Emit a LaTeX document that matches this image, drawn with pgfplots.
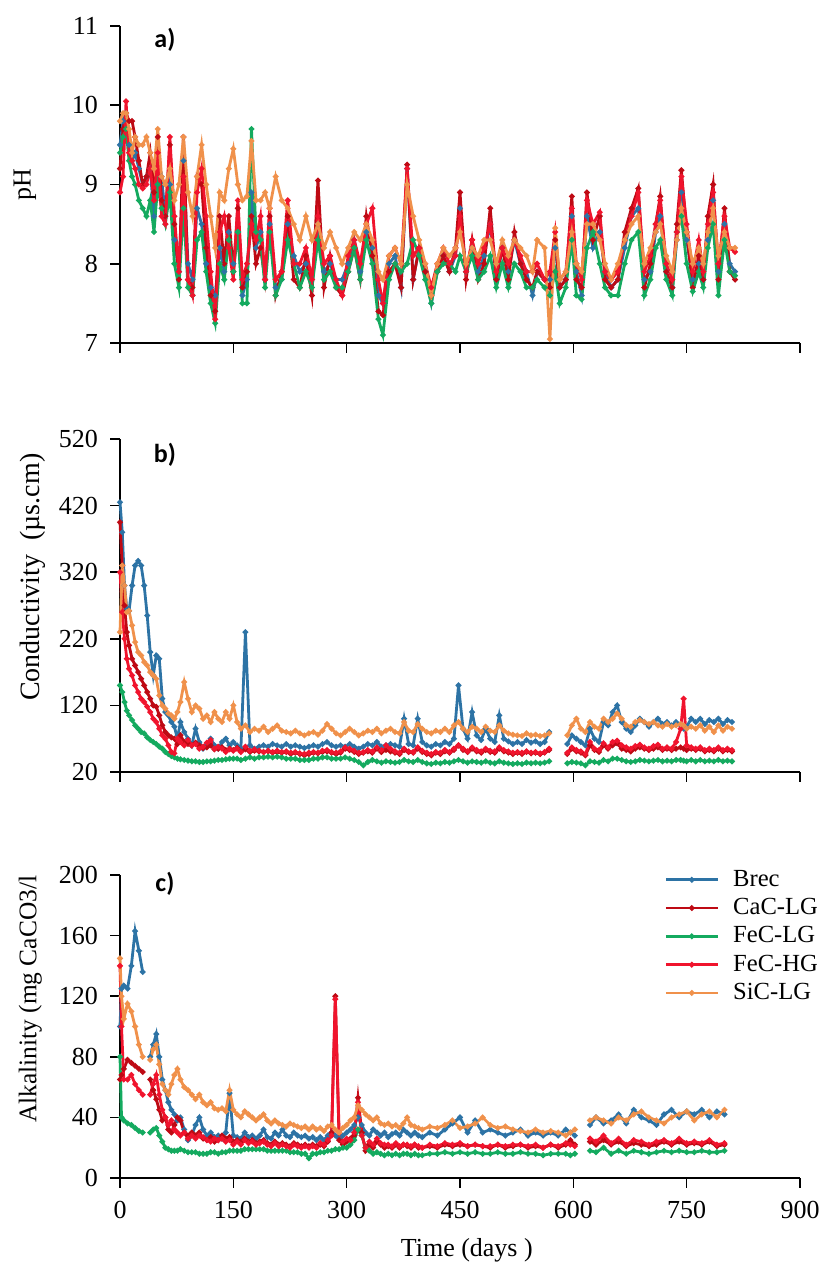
\documentclass[border=0pt]{standalone}
\usepackage{fontspec}
\setmainfont{Liberation Serif}
\newfontfamily\calib{Carlito}
\usepackage{pgfplots}
\usepackage{pgfplotstable}
\pgfplotsset{compat=1.18}
\definecolor{cB}{RGB}{45,115,165}
\definecolor{cC}{RGB}{190,10,20}
\definecolor{cG}{RGB}{20,170,95}
\definecolor{cR}{RGB}{240,20,45}
\definecolor{cO}{RGB}{240,145,75}

\pgfplotstableread{
x B C G R O
0 9.5 9.2 9.4 8.9 9.8
4 9.8 9.7 9.6 9.1 9.9
8 9.9 9.9 9.7 10.05 9.9
12 9.5 9.8 9.3 9.4 9.7
16 9.3 9.8 9.1 9.3 9.4
20 9.4 9.6 9.0 9.2 9.6
25 9.2 9.3 8.8 9.0 9.5
30 9.0 9.0 8.7 8.95 9.5
35 9.1 9.1 8.6 9.0 9.6
40 9.2 9.4 8.8 9.2 9.4
45 8.6 8.9 8.4 8.8 9.2
50 9.0 9.6 9.0 9.4 9.7
55 9.1 8.8 8.7 8.6 9.1
60 8.6 8.6 8.5 8.5 9.0
66 9.0 9.5 8.9 9.6 9.2
72 8.3 8.5 8.0 8.6 8.8
78 7.9 7.8 7.7 7.9 9.0
84 9.3 9.6 8.7 9.1 9.6
90 8.0 7.8 7.7 7.8 8.9
96 7.8 7.7 7.6 7.6 8.6
102 8.7 9.1 8.3 8.9 9.1
108 8.5 9.0 8.4 9.2 9.5
114 8.0 8.2 7.9 8.6 9.0
120 7.7 7.6 7.5 7.9 8.6
126 7.6 7.4 7.25 7.3 8.2
132 8.2 8.6 8.0 8.4 8.9
138 7.9 8.0 7.8 8.6 8.8
144 8.4 8.6 8.3 8.2 9.2
150 8.0 7.9 7.9 7.8 9.45
156 8.4 8.7 8.4 8.8 9.0
162 7.6 7.7 7.5 7.8 8.8
168 7.8 7.9 7.5 8.0 8.85
174 8.9 8.6 9.7 8.5 9.55
180 8.2 8.0 8.4 8.3 8.8
186 8.4 8.2 8.3 8.6 8.8
192 7.8 7.8 7.7 7.8 8.9
198 8.5 8.6 8.4 8.7 8.7
206 7.7 7.6 7.6 7.8 9.1
214 7.8 7.9 7.8 7.9 8.8
222 8.5 8.6 8.3 8.8 8.7
230 8.1 7.8 8.0 8.0 8.5
238 7.9 7.7 7.7 8.0 8.3
246 8.0 8.1 7.9 8.2 8.6
254 7.8 7.6 7.7 7.8 8.3
262 8.5 9.05 8.3 8.6 8.5
270 7.9 7.7 7.8 8.0 8.2
278 8.0 8.1 7.9 8.1 8.4
286 7.8 7.7 7.7 7.8 8.2
294 7.8 7.6 7.7 7.6 8.0
302 8.0 7.9 7.9 8.1 8.2
310 8.3 8.2 8.2 8.3 8.4
318 7.9 7.8 7.8 8.0 8.3
326 8.4 8.6 8.3 8.5 8.5
334 8.2 8.1 8.0 8.7 8.3
342 7.6 7.4 7.3 7.8 7.9
348 7.5 7.35 7.1 7.5 7.8
356 8.0 7.9 7.8 8.1 8.1
364 8.1 8.0 8.0 8.2 8.2
372 7.7 7.7 7.9 8.0 8.0
380 9.2 9.25 8.0 9.2 9.0
388 7.8 7.8 8.3 8.1 8.6
396 8.2 8.2 8.1 8.2 8.3
404 7.9 7.9 7.8 8.0 8.0
412 7.5 7.6 7.5 7.7 7.6
420 7.9 7.9 7.9 8.0 8.0
428 8.1 8.1 8.0 8.2 8.2
436 7.9 7.9 8.0 8.0 8.1
444 8.1 8.2 7.9 8.1 8.2
450 8.7 8.9 8.1 8.6 8.4
458 7.9 7.8 7.9 7.9 8.0
466 8.2 8.3 8.1 8.3 8.2
474 7.9 7.8 7.8 8.0 8.1
482 8.1 8.0 7.9 8.2 8.3
490 8.5 8.7 8.1 8.5 8.3
498 7.8 7.8 7.7 7.9 8.0
506 8.2 8.2 8.0 8.2 8.3
514 7.9 7.8 7.7 8.0 8.1
522 8.3 8.4 8.0 8.3 8.3
530 8.0 8.0 7.9 8.1 8.2
538 7.9 7.8 7.7 7.9 8.1
546 7.6 7.7 7.7 7.9 7.9
552 7.9 7.9 7.8 8.0 8.3
562 7.8 7.8 7.7 7.8 8.2
569 7.8 7.7 7.6 7.9 7.05
576 8.2 8.3 7.9 8.4 8.45
582 7.7 7.7 7.5 7.8 7.8
590 7.8 7.8 7.7 7.9 7.9
598 8.6 8.85 8.3 8.7 8.4
604 7.9 7.8 7.6 8.0 8.0
611 7.6 7.7 7.55 7.8 7.9
618 8.6 8.9 8.2 8.8 8.5
626 8.2 8.3 8.4 8.5 8.5
635 8.4 8.6 8.0 8.65 8.3
642 7.9 7.8 7.7 7.9 8.0
650 7.7 7.7 7.6 7.8 7.8
659 7.8 7.8 7.6 7.9 8.0
668 8.2 8.4 8.0 8.3 8.3
677 8.6 8.7 8.3 8.6 8.5
686 8.7 8.95 8.4 8.9 8.6
694 7.8 7.7 7.6 7.9 8.0
702 7.9 8.0 7.8 8.1 8.2
709 8.4 8.5 8.2 8.5 8.4
715 8.6 8.85 8.3 8.8 8.5
723 7.9 7.9 7.8 8.0 8.1
731 7.7 7.7 7.6 7.8 7.9
737 8.3 8.5 8.4 8.4 8.3
743 8.9 9.18 8.6 9.1 8.7
750 8.3 8.4 8.0 8.5 8.4
758 7.8 7.7 7.65 7.9 8.0
766 8.0 8.1 7.9 8.3 8.2
772 7.8 7.8 7.7 7.9 8.0
778 8.3 8.6 8.2 8.5 8.4
785 8.8 9.0 8.5 8.9 8.7
792 7.9 7.8 7.6 8.0 8.1
800 8.5 8.7 8.3 8.6 8.4
807 8.0 7.9 7.9 8.2 8.2
814 7.9 7.8 7.85 8.15 8.2
}\tabA

\pgfplotstableread{
x B C G R O
0 425 395 150 320 230
3 380 330 140 260 330
6 300 270 125 220 300
9 265 230 112 190 260
12 262 210 105 175 262
16 300 190 98 165 240
20 330 180 90 150 215
24 337 170 85 140 200
28 330 160 80 130 195
32 300 150 78 125 185
36 255 140 72 118 180
40 200 130 68 110 170
44 165 120 65 100 165
48 195 118 62 95 160
52 190 105 58 85 135
56 130 90 55 75 120
60 110 80 50 70 115
64 105 75 47 60 108
68 95 72 44 50 105
72 88 70 42 48 100
76 70 62 40 70 110
80 95 75 39 65 125
85 80 65 38 60 155
90 70 62 37 68 130
95 60 60 36 60 110
100 85 64 36 62 120
105 65 60 35 55 115
110 55 56 35 58 100
115 60 57 36 64 105
120 70 60 36 68 95
125 60 54 37 55 110
130 55 55 38 58 100
135 65 57 38 55 95
140 70 53 39 50 110
145 60 55 40 54 100
150 65 53 40 52 120
155 60 56 40 55 95
160 55 51 38 50 85
166 230 54 40 58 90
172 60 50 42 52 80
178 55 52 40 54 85
184 58 51 42 52 82
190 60 50 42 50 88
196 58 51 43 52 80
202 62 49 42 50 85
208 60 50 43 52 90
214 58 49 42 50 82
220 62 50 40 51 80
226 58 47 40 49 78
232 60 49 40 50 82
238 58 47 38 48 78
244 56 45 38 47 75
250 58 47 38 49 78
256 60 49 40 50 80
262 58 48 40 49 76
268 62 50 42 52 82
274 65 51 42 53 92
280 60 49 40 50 85
286 58 47 40 49 78
292 60 49 40 51 75
298 58 55 42 57 80
304 62 53 40 55 85
310 58 50 38 52 80
316 55 47 35 49 75
322 58 49 30 50 78
328 62 51 35 53 82
334 60 49 38 51 80
340 65 55 36 57 85
346 58 50 34 53 78
352 60 53 36 60 82
358 62 51 35 55 85
364 60 49 34 51 80
370 58 47 35 49 78
376 100 53 38 55 95
382 62 50 36 51 82
388 60 49 35 50 80
394 100 55 38 57 92
400 65 50 35 52 85
406 60 47 33 49 80
412 58 45 32 47 78
418 62 49 34 50 82
424 60 47 33 49 80
430 65 51 35 53 85
436 62 49 34 50 80
442 70 53 36 55 90
448 150 60 38 60 95
454 85 53 36 55 85
460 70 50 34 51 80
466 110 55 36 57 88
472 75 51 35 53 85
478 68 49 34 51 80
484 85 53 36 55 88
490 70 50 34 52 82
496 65 49 33 51 80
502 105 55 36 57 90
508 70 51 34 53 82
514 66 49 33 51 78
520 62 47 32 49 76
526 65 49 33 50 75
532 62 47 32 49 74
538 68 50 34 51 78
544 64 48 33 49 75
550 66 49 34 50 76
556 62 47 33 48 74
562 65 49 34 50 75
568 80 53 36 55 78
573 nan nan nan nan nan
592 62 47 33 49 75
598 75 55 35 57 90
604 70 51 34 53 100
610 65 49 33 51 85
616 60 45 30 47 80
622 85 60 36 65 95
628 70 53 35 55 88
634 65 50 34 53 85
640 95 60 38 63 100
646 90 55 36 57 95
652 110 60 40 65 100
658 120 63 40 67 108
664 95 55 38 60 100
670 85 53 36 57 90
676 80 51 35 55 88
682 90 55 36 59 95
688 100 57 38 61 98
694 95 55 37 57 95
700 88 53 36 55 92
706 95 55 37 59 95
712 100 57 38 61 90
718 92 53 36 55 88
724 95 55 37 57 92
730 90 53 36 55 88
736 95 55 38 65 90
742 90 57 38 85 92
746 85 55 37 130 90
750 88 53 36 60 85
756 100 55 38 57 88
762 95 53 36 55 85
768 100 55 38 57 90
774 92 51 36 53 82
780 98 53 37 55 88
786 95 51 36 53 80
792 100 55 38 57 90
798 92 51 36 53 82
804 98 53 37 55 88
810 95 51 36 53 85
}\tabB

\pgfplotstableread{
x B C G R O
0 100 65 80 140 145
2 125 68 40 100 120
5 127 72 38 65 105
10 125 78 36 65 115
15 140 76 35 68 110
20 163 74 33 62 100
25 150 72 31 58 88
30 136 70 30 55 80
35 nan nan nan nan nan
40 80 65 30 55 78
44 88 58 32 62 85
48 95 52 33 68 88
52 80 45 28 55 75
56 65 38 24 45 62
60 58 40 20 40 58
64 50 32 19 35 55
68 45 30 18 38 62
72 42 35 18 32 68
76 38 40 18 30 72
80 40 38 19 28 65
85 32 30 18 30 60
90 25 28 17 26 58
95 28 30 17 28 55
100 35 28 17 26 52
105 40 30 16 28 55
110 32 26 16 27 50
115 28 25 16 25 48
120 30 27 17 24 50
125 27 24 17 26 46
130 28 25 16 25 45
135 26 28 17 26 46
140 30 26 17 24 44
145 56 27 18 25 58
150 28 24 18 22 45
155 27 25 18 24 42
160 26 24 18 22 40
165 30 26 19 25 44
170 27 24 19 23 42
175 28 25 19 24 40
180 26 23 19 22 38
185 28 24 19 23 40
190 32 25 19 24 42
195 27 23 18 22 38
200 26 22 18 21 36
205 30 24 18 23 38
210 28 22 18 21 36
215 32 23 18 22 35
220 28 22 18 21 34
225 27 21 17 20 36
230 30 23 17 22 35
235 28 22 17 21 34
240 27 21 16 20 33
245 28 22 16 21 34
250 26 21 13 20 32
255 27 22 16 21 34
260 25 21 16 20 32
265 27 22 17 23 33
270 25 21 17 22 31
275 28 24 18 25 34
280 30 30 18 28 35
285 28 120 19 118 32
290 26 25 19 30 30
295 28 22 20 24 33
300 30 24 20 26 35
305 32 26 22 25 38
310 35 28 25 30 40
315 40 53 32 50 48
320 35 30 28 28 45
325 30 18 20 20 42
330 28 22 18 24 40
335 32 20 16 22 38
340 30 24 17 26 40
345 28 22 16 23 36
350 30 20 15 22 35
355 27 21 16 22 36
360 29 20 15 21 34
365 30 22 16 23 35
370 28 20 15 21 33
375 32 22 16 22 36
380 30 21 16 22 40
385 28 20 15 21 35
390 30 22 16 22 34
395 28 20 15 21 33
400 27 20 15 20 32
410 30 21 16 22 34
420 28 20 16 21 33
430 32 22 17 23 35
440 36 21 16 22 38
450 40 22 17 23 33
460 30 21 16 21 34
470 38 22 17 22 36
480 30 21 16 21 40
490 32 20 16 21 35
500 30 22 17 22 33
510 28 20 16 21 34
520 30 21 16 22 32
530 32 22 17 22 31
540 28 20 16 21 30
550 30 21 16 22 32
560 28 20 15 20 30
570 30 22 16 22 31
580 28 20 16 21 30
590 32 22 16 23 28
596 30 25 15 22 30
602 28 22 16 21 32
608 nan nan nan nan nan
622 35 24 18 26 38
630 40 22 17 24 40
640 36 25 20 28 38
650 38 22 16 23 36
660 42 24 18 26 40
670 36 21 16 22 38
680 45 23 18 25 42
690 40 22 17 24 44
700 38 21 16 22 40
710 35 22 17 24 38
720 42 24 18 25 36
730 45 22 17 23 40
740 40 24 18 26 42
750 44 22 17 23 44
760 42 23 17 24 38
770 45 22 18 23 42
780 40 24 17 25 44
790 44 21 17 22 40
800 42 22 18 23 45
}\tabC

\pgfplotsset{
  panel/.style={
    scale only axis, width=340pt, anchor=south west,
    axis x line=bottom, axis y line=left,
    axis line style={-, line width=0.9pt},
    tick align=outside, major tick length=5pt,
    tick style={line width=0.8pt, black},
    xmin=0, xmax=900, xtick={0,150,...,900},
    enlargelimits=false, clip=false,
    unbounded coords=jump,
    ticklabel style={font=\fontsize{13}{15}\selectfont},
    /pgf/number format/assume math mode=true,
    yticklabel style={xshift=-2.5pt},
    xticklabel style={yshift=-3pt},
    label style={font=\fontsize{13}{15}\selectfont},
    every axis plot/.append style={line width=1.4pt, mark=*, mark size=0.6pt},
  },
  legend image code/.code={\draw[mark repeat=2,mark phase=2] plot coordinates {(0pt,0pt) (13pt,0pt) (26pt,0pt)};},
}

\begin{document}
\begin{tikzpicture}
\useasboundingbox (0pt,0pt) rectangle (418pt,634pt);

% panel a
\begin{axis}[panel, at={(60pt,462.5pt)}, height=158.5pt,
  ymin=7, ymax=11, ytick={7,8,9,10,11}, xticklabels={},
  ylabel={pH}, ylabel style={at={(axis description cs:-0.14,0.5)}, anchor=center}]
\addplot[cB, mark options={fill=cB}] table[x=x,y=B] {\tabA};
\addplot[cC, mark options={fill=cC}] table[x=x,y=C] {\tabA};
\addplot[cG, mark options={fill=cG}] table[x=x,y=G] {\tabA};
\addplot[cR, mark options={fill=cR}] table[x=x,y=R] {\tabA};
\addplot[cO, mark options={fill=cO}] table[x=x,y=O] {\tabA};
\node[font=\calib\bfseries\fontsize{13}{15}\selectfont] at (rel axis cs:0.066,0.956) {a)};
\end{axis}

% panel b
\begin{axis}[panel, at={(60pt,248pt)}, height=166.5pt,
  ymin=20, ymax=520, ytick={20,120,220,320,420,520}, xticklabels={},
  ylabel={Conductivity\ \ (µs.cm)}, ylabel style={font=\fontsize{14}{16}\selectfont, at={(axis description cs:-0.128,0.585)}, anchor=center}]
\addplot[cB, mark options={fill=cB}] table[x=x,y=B] {\tabB};
\addplot[cC, mark options={fill=cC}] table[x=x,y=C] {\tabB};
\addplot[cG, mark options={fill=cG}] table[x=x,y=G] {\tabB};
\addplot[cR, mark options={fill=cR}] table[x=x,y=R] {\tabB};
\addplot[cO, mark options={fill=cO}] table[x=x,y=O] {\tabB};
\node[font=\calib\bfseries\fontsize{13}{15}\selectfont] at (rel axis cs:0.066,0.952) {b)};
\end{axis}

% panel c
\begin{axis}[panel, at={(60pt,45pt)}, height=151.5pt,
  ymin=0, ymax=200, ytick={0,40,80,120,160,200},
  xlabel={Time (days )}, xlabel style={at={(axis description cs:0.51,-0.238)}, anchor=center},
  ylabel={Alkalinity (mg CaCO3/l}, ylabel style={font=\fontsize{12.7}{15}\selectfont, at={(axis description cs:-0.132,0.59)}, anchor=center},
  legend style={draw=none, fill=none, at={(0.80,1.03)}, anchor=north west,
    font=\fontsize{12.3}{14}\selectfont, row sep=0.5pt, inner sep=0pt,
    cells={anchor=west}, /tikz/every odd column/.append style={column sep=5pt}},
  legend cell align=left]
\addplot[cB, mark options={fill=cB}] table[x=x,y=B] {\tabC};
\addplot[cC, mark options={fill=cC}] table[x=x,y=C] {\tabC};
\addplot[cG, mark options={fill=cG}] table[x=x,y=G] {\tabC};
\addplot[cR, mark options={fill=cR}] table[x=x,y=R] {\tabC};
\addplot[cO, mark options={fill=cO}] table[x=x,y=O] {\tabC};
\legend{Brec,CaC-LG,FeC-LG,FeC-HG,SiC-LG}
\node[font=\calib\bfseries\fontsize{13}{15}\selectfont] at (rel axis cs:0.066,0.97) {c)};
\end{axis}
\end{tikzpicture}
\end{document}
